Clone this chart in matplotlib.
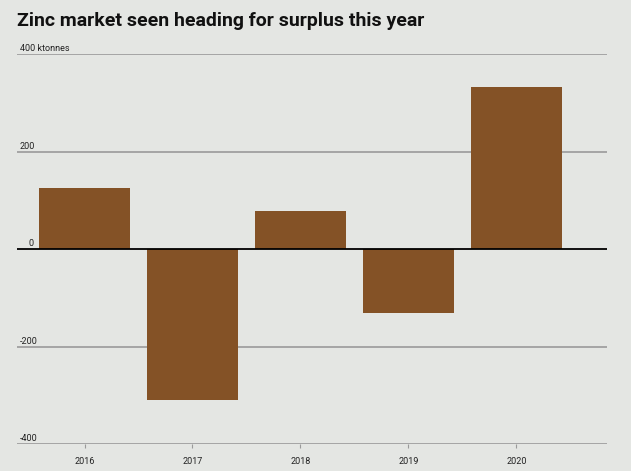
import matplotlib.pyplot as plt
import numpy as np

anos = ["2016", "2017", "2018", "2019", "2020"]
saldo = [125, -310, 78, -131, 332]
yticks = [-400, -200, 0, 200, 400]
ylabels = ["-400", "-200", "0", "200", "400 ktonnes"]

fundo = "#e4e6e3"
cor_barra = "#845226"

fig = plt.figure(figsize=(6.31, 4.71), dpi=100, facecolor=fundo)
ax = fig.add_axes([0.027, 0.0573, 0.935, 0.8277], facecolor=fundo)

x = np.arange(len(anos))
ax.bar(x, saldo, width=0.84, color=cor_barra, zorder=3)

ax.set_xlim(-0.625, 4.84)
ax.set_ylim(-400, 400)

for v, lab in zip(yticks, ylabels):
    if v == 0:
        ax.axhline(0, color="black", lw=1.3, zorder=4)
    else:
        ax.axhline(v, color="#9a9a9a", lw=1.2, zorder=1)
    ax.text(0.005 if v != 0 else 0.02, v + 2, lab, transform=ax.get_yaxis_transform(),
            fontsize=6.5, color="#222222", ha="left", va="bottom",
            family="Roboto")

ax.set_yticks([])
ax.set_xticks(x)
ax.set_xticklabels(anos, fontsize=6.5, family="Roboto", color="#222222")
ax.tick_params(axis="x", length=3, color="#9a9a9a", pad=6)
for s in ["top", "right", "left", "bottom"]:
    ax.spines[s].set_visible(False)

fig.text(0.027, 0.955, "Zinc market seen heading for surplus this year",
         fontsize=14, fontweight="bold", family="Roboto", va="center", ha="left",
         color="#111111")

plt.savefig("out.png", dpi=100, facecolor=fundo)
plt.close()
